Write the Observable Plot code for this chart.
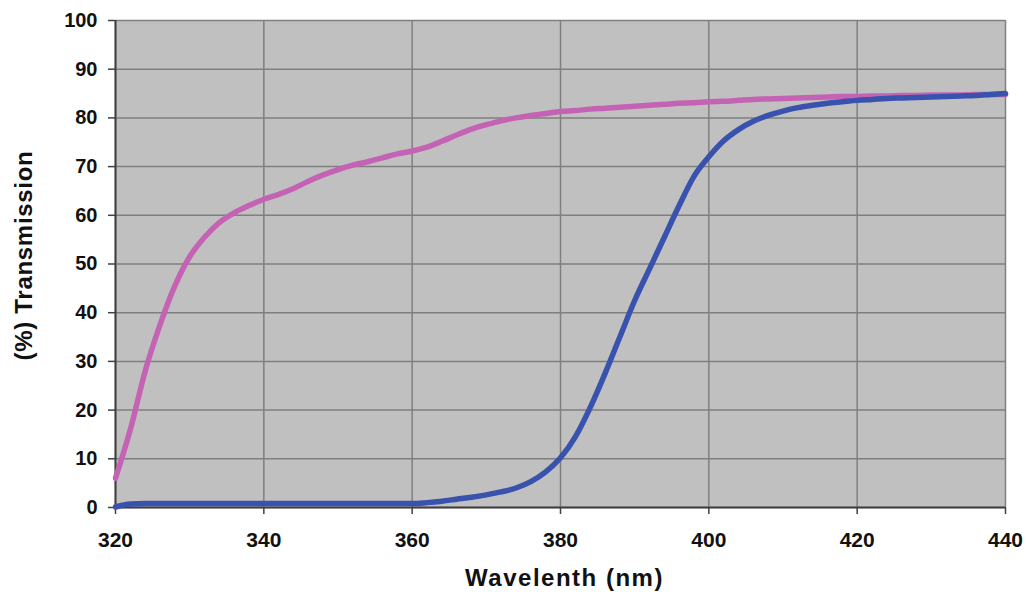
<!DOCTYPE html>
<html>
<head>
<meta charset="utf-8">
<script src="https://cdn.jsdelivr.net/npm/d3@7"></script>
<script src="https://cdn.jsdelivr.net/npm/@observablehq/plot@0.6"></script>
<style>
  html, body { margin: 0; padding: 0; background: #fff; }
  #chart { width: 1026px; height: 592px; }
</style>
</head>
<body>
<div id="chart"></div>
<script>
const wavelengths = [320,322,324,326,328,330,332,334,336,338,340,342,344,346,348,350,352,354,356,358,360,362,364,366,368,370,372,374,376,378,380,382,384,386,388,390,392,394,396,398,400,402,404,406,408,410,412,414,416,418,420,422,424,426,428,430,432,434,436,438,440];
const pinkValues = [6,16,28,37.5,45.5,51.5,55.5,58.5,60.5,62,63.3,64.3,65.5,67,68.3,69.4,70.3,71,71.8,72.6,73.2,74,75.2,76.5,77.7,78.6,79.4,80,80.5,80.9,81.3,81.5,81.8,82,82.2,82.4,82.6,82.8,83,83.1,83.3,83.4,83.6,83.8,83.9,84,84.1,84.2,84.3,84.4,84.4,84.5,84.5,84.6,84.6,84.7,84.7,84.7,84.8,84.8,84.8];
const blueValues = [0.1,0.7,0.8,0.8,0.8,0.8,0.8,0.8,0.8,0.8,0.8,0.8,0.8,0.8,0.8,0.8,0.8,0.8,0.8,0.8,0.8,1.0,1.3,1.7,2.1,2.6,3.2,4.0,5.3,7.3,10.2,14.5,20.5,27.5,35,42.5,49,55.5,62,68,72,75.3,77.6,79.3,80.5,81.4,82.1,82.6,83,83.3,83.6,83.8,84,84.1,84.2,84.3,84.4,84.5,84.6,84.8,85];
const xTicks = [320,340,360,380,400,420,440];
const yTicks = [0,10,20,30,40,50,60,70,80,90,100];
const xTitle = "Wavelenth (nm)";
const yTitle = "(%) Transmission";

const pink = wavelengths.map((w, i) => ({w, v: pinkValues[i]}));
const blue = wavelengths.map((w, i) => ({w, v: blueValues[i]}));

const chart = Plot.plot({
  width: 1026,
  height: 592,
  marginLeft: 115,
  marginRight: 21,
  marginTop: 20,
  marginBottom: 85,
  style: {fontFamily: "'Liberation Sans', Arial, sans-serif", fontWeight: "bold", background: "#fff"},
  x: {domain: [320, 440]},
  y: {domain: [0, 100]},
  marks: [
    Plot.frame({fill: "#c0c0c0", stroke: null}),
    Plot.gridX(xTicks, {stroke: "#7f7f7f", strokeOpacity: 1, strokeWidth: 1.5}),
    Plot.gridY(yTicks, {stroke: "#7f7f7f", strokeOpacity: 1, strokeWidth: 1.5}),
    Plot.ruleX([320], {stroke: "#404040", strokeWidth: 2}),
    Plot.ruleY([0], {stroke: "#404040", strokeWidth: 2}),
    Plot.axisX(xTicks, {tickSize: 7, tickPadding: 18, fontSize: 21, fontWeight: "bold", fill: "#111", stroke: "#404040", strokeWidth: 1.5, label: null}),
    Plot.axisY(yTicks, {tickSize: 7, tickPadding: 11, fontSize: 20, fontWeight: "bold", fill: "#111", stroke: "#404040", strokeWidth: 1.5, label: null}),
    Plot.line(pink, {x: "w", y: "v", stroke: "#c463b4", strokeWidth: 5.5, curve: "monotone-x"}),
    Plot.line(blue, {x: "w", y: "v", stroke: "#3852ae", strokeWidth: 5.5, curve: "monotone-x"}),
    Plot.text([xTitle], {frameAnchor: "bottom", textAnchor: "middle", dy: 70.5, dx: 4, lineAnchor: "middle", fontSize: 24, fontWeight: "bold", fill: "#111"}),
    Plot.text([yTitle], {frameAnchor: "left", textAnchor: "middle", dx: -91, dy: -8.5, rotate: -90, lineAnchor: "middle", fontSize: 24, fontWeight: "bold", fill: "#111"})
  ]
});
document.getElementById("chart").appendChild(chart);
d3.select(chart).selectAll("text").filter(function() { return this.textContent === xTitle; }).style("letter-spacing", "1.5px");
d3.select(chart).selectAll("text").filter(function() { return this.textContent === yTitle; }).style("letter-spacing", "0.7px");
</script>
</body>
</html>
